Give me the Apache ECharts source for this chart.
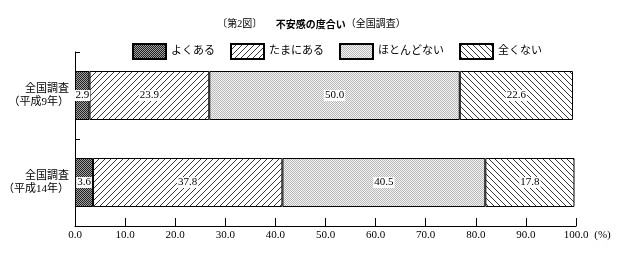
<!DOCTYPE html>
<html><head><meta charset="utf-8">
<script src="https://cdn.jsdelivr.net/npm/echarts@6/dist/echarts.min.js"></script>
<style>html,body{margin:0;padding:0;background:#fff}#c{width:623px;height:258px}</style>
</head><body><div id="c"></div>
<script>
const categories = ['全国調査\n（平成9年）', '全国調査\n（平成14年）'];
const seriesNames = ['よくある', 'たまにある', 'ほとんどない', '全くない'];
const often = [2.9, 3.6];
const sometimes = [23.9, 37.8];
const rarely = [50.0, 40.5];
const never = [22.6, 17.8];
const xTicks = [0, 10, 20, 30, 40, 50, 60, 70, 80, 90, 100];

const FONT = "'Liberation Serif', 'Noto Sans CJK JP', serif";

function pat(kind) {
  const s = kind === 'dark' || kind === 'light' ? 2 : 6;
  const c = document.createElement('canvas');
  c.width = s; c.height = s;
  const g = c.getContext('2d');
  if (kind === 'dark') {
    g.fillStyle = '#a0a0a0'; g.fillRect(0,0,2,2);
    g.fillStyle = '#222'; g.fillRect(0,0,1,1); g.fillRect(1,1,1,1);
  } else if (kind === 'light') {
    g.fillStyle = '#f4f4f4'; g.fillRect(0,0,2,2);
    g.fillStyle = '#b8b8b8'; g.fillRect(0,0,1,1); g.fillRect(1,1,1,1);
  } else {
    g.fillStyle = '#fff'; g.fillRect(0,0,s,s);
    g.strokeStyle = '#222'; g.lineWidth = 0.9;
    g.beginPath();
    if (kind === 'fwd') {
      for (let k = -1; k <= 1; k++) { g.moveTo(k*s - 1, s + 1); g.lineTo(k*s + s + 1, -1); }
    } else {
      for (let k = -1; k <= 1; k++) { g.moveTo(k*s - 1, -1); g.lineTo(k*s + s + 1, s + 1); }
    }
    g.stroke();
  }
  return { image: c, repeat: 'repeat' };
}

const fills = [pat('dark'), pat('fwd'), pat('light'), pat('back')];
const dataSets = [often, sometimes, rarely, never];

const chart = echarts.init(document.getElementById('c'), null, { renderer: 'canvas' });
chart.setOption({
  animation: false,
  backgroundColor: '#fff',
  textStyle: { fontFamily: FONT, color: '#000' },
  title: {
    left: 'center', top: 15, padding: 0,
    text: '{a|〔第2図〕}   {b|不安感の度合い}{a|（全国調査）}',
    textStyle: {
      fontWeight: 'normal',
      rich: {
        a: { fontFamily: FONT, fontSize: 10, fontWeight: 'normal', color: '#000' },
        b: { fontFamily: "'Noto Sans CJK JP', sans-serif", fontSize: 10, fontWeight: 'bold', color: '#000' }
      }
    }
  },
  legend: {
    left: 132, top: 43, padding: 0,
    itemWidth: 33, itemHeight: 15, itemGap: 15,
    icon: 'rect',
    textStyle: { fontFamily: FONT, fontSize: 11, color: '#000' },
    data: seriesNames
  },
  grid: { left: 75, right: 47, top: 52, bottom: 32, containLabel: false },
  xAxis: {
    type: 'value', min: 0, max: 100, interval: 10,
    name: '(%)', nameLocation: 'end', nameGap: 7,
    nameTextStyle: { fontFamily: FONT, fontSize: 11, color: '#000', verticalAlign: 'top', padding: [4, 0, 0, 0] },
    axisLine: { show: true, lineStyle: { color: '#000', width: 1 } },
    axisTick: { show: true, inside: true, length: 8, lineStyle: { color: '#000' } },
    axisLabel: { fontFamily: FONT, fontSize: 11, color: '#000', margin: 4,
      formatter: v => (xTicks.indexOf(v) >= 0 ? v.toFixed(1) : '') },
    splitLine: { show: false }
  },
  yAxis: {
    type: 'category', inverse: true, data: categories,
    axisLine: { show: true, lineStyle: { color: '#000', width: 1 } },
    axisTick: { show: true, inside: true, length: 5, lineStyle: { color: '#000' } },
    axisLabel: { fontFamily: FONT, fontSize: 11, color: '#000', margin: 6, lineHeight: 13, align: 'right' }
  },
  series: seriesNames.map((n, i) => ({
    name: n, type: 'bar', stack: 'all', barWidth: 49,
    data: dataSets[i],
    itemStyle: { color: fills[i], borderColor: '#000', borderWidth: 1 },
    emphasis: { disabled: true },
    label: {
      show: true, position: 'inside',
      fontFamily: FONT, fontSize: 11, color: '#000',
      backgroundColor: '#fff', padding: [0, 1],
      formatter: p => p.value.toFixed(1)
    }
  }))
});
</script></body></html>
